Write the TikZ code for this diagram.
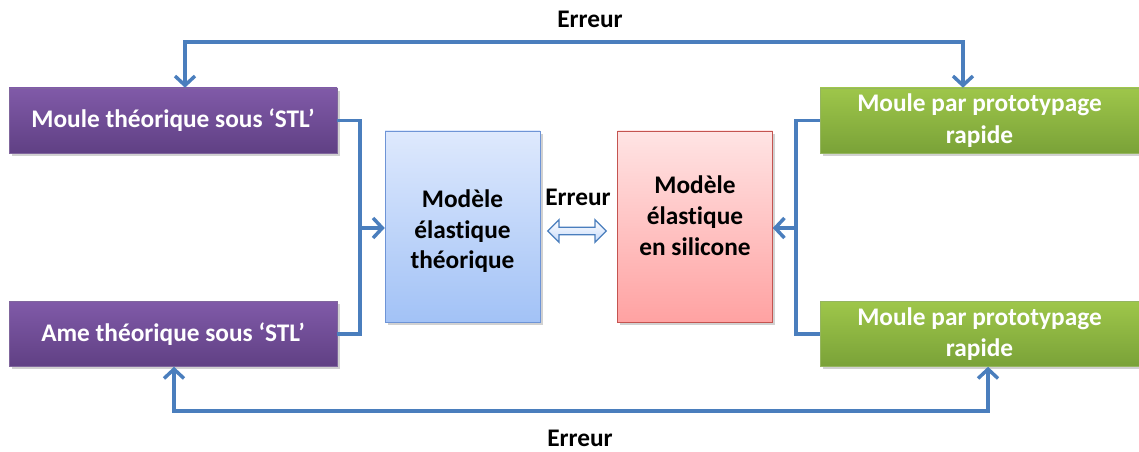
\documentclass[tikz,border=0pt]{standalone}
\usepackage{fontspec}
\setmainfont{Carlito}[Ligatures=NoCommon]
\usetikzlibrary{arrows.meta,positioning,shapes.arrows,shadows}
\definecolor{lineBlue}{RGB}{74,126,189}
\definecolor{purpleTop}{RGB}{128,90,168}
\definecolor{purpleBot}{RGB}{96,64,132}
\definecolor{greenTop}{RGB}{158,198,74}
\definecolor{greenBot}{RGB}{122,162,56}
\definecolor{blueTop}{RGB}{222,233,253}
\definecolor{blueBot}{RGB}{162,194,246}
\definecolor{blueEdge}{RGB}{110,148,214}
\definecolor{redTop}{RGB}{255,228,228}
\definecolor{redBot}{RGB}{255,162,162}
\definecolor{redEdge}{RGB}{196,84,80}
\newcommand{\modelText}[2]{\raisebox{#1}[0pt][0pt]{\begin{tabular}{@{}c@{}}#2\end{tabular}}}
\tikzset{
  boxShadow/.style={drop shadow={shadow xshift=2pt, shadow yshift=-2pt, opacity=0.3, fill=black!60}},
  stlBox/.style={boxShadow, top color=purpleTop, bottom color=purpleBot, draw=purpleBot!80, text=white,
    font=\fontsize{19}{23.5}\selectfont\bfseries, minimum width=246pt, minimum height=48.75pt, align=center, inner sep=0pt},
  rpBox/.style={stlBox, top color=greenTop, bottom color=greenBot, draw=greenBot!80, minimum width=239.25pt},
  modelBox/.style={boxShadow, text=black, font=\fontsize{19}{23}\selectfont\bfseries,
    minimum width=116.25pt, minimum height=143.25pt, align=center, inner sep=0pt},
  barb/.tip={Straight Barb[length=7pt,width=15pt,line width=2.6pt]},
  flow/.style={draw=lineBlue, line width=2.6pt, -barb},
  joint/.style={draw=lineBlue, line width=2.6pt},
  errLabel/.style={font=\fontsize{19}{23}\selectfont\bfseries, text=black, inner sep=0pt}
}
\begin{document}
\begin{tikzpicture}[x=0.75pt, y=-0.75pt]
\useasboundingbox (0,0) rectangle (1139,452);
% boites de gauche et de droite
\node[stlBox] (moldSTL) at (173,120.5) {Moule théorique sous ‘STL’};
\node[stlBox] (coreSTL) at (173,334) {Ame théorique sous ‘STL’};
\node[rpBox] (moldRP) at (979.5,120.5) {Moule par prototypage\\rapide};
\node[rpBox] (coreRP) at (979.5,334) {Moule par prototypage\\rapide};
% modeles elastiques
\node[modelBox, top color=blueTop, bottom color=blueBot, draw=blueEdge] (theo) at (462.5,226.5) {\modelText{-8.5pt}{Modèle\\élastique\\théorique}};
\node[modelBox, top color=redTop, bottom color=redBot, draw=redEdge] (sil) at (695,226.5) {\modelText{1.7pt}{Modèle\\élastique\\en silicone}};
\node[double arrow, draw=lineBlue, line width=0.9pt, top color=white, bottom color=blueTop!60!blueBot,
  minimum height=44pt, minimum width=17pt, double arrow head extend=4pt, inner sep=1.5pt] (errCmp) at (577,231) {};
\node[errLabel] (errMid) at (578,197) {Erreur};
% boucles d'erreur
\coordinate (topA) at ([xshift=9pt]moldSTL.north);
\coordinate (topB) at ([xshift=-12.4pt]moldRP.north);
\coordinate (topLine) at (0,42);
\draw[flow, barb-barb] (topA) -- (topA |- topLine) -- (topB |- topLine) -- (topB);
\node[errLabel] (errTop) at (590,19) {Erreur};
\coordinate (botA) at ([xshift=0.75pt]coreSTL.south);
\coordinate (botB) at ([xshift=6.4pt]coreRP.south);
\coordinate (botLine) at (0,411);
\draw[flow, barb-barb] (botA) -- (botA |- botLine) -- (botB |- botLine) -- (botB);
\node[errLabel] (errBot) at (580,438) {Erreur};
% raccords vers les modeles
\coordinate (leftJoin) at (360,228);
\coordinate (rightJoin) at (796,228);
\draw[joint] (moldSTL.east) -| (leftJoin) |- (coreSTL.east);
\draw[flow] (leftJoin) -- (leftJoin -| theo.west);
\draw[joint] (moldRP.west) -| (rightJoin) |- (coreRP.west);
\draw[flow] (rightJoin) -- (rightJoin -| sil.east);
\end{tikzpicture}
\end{document}
